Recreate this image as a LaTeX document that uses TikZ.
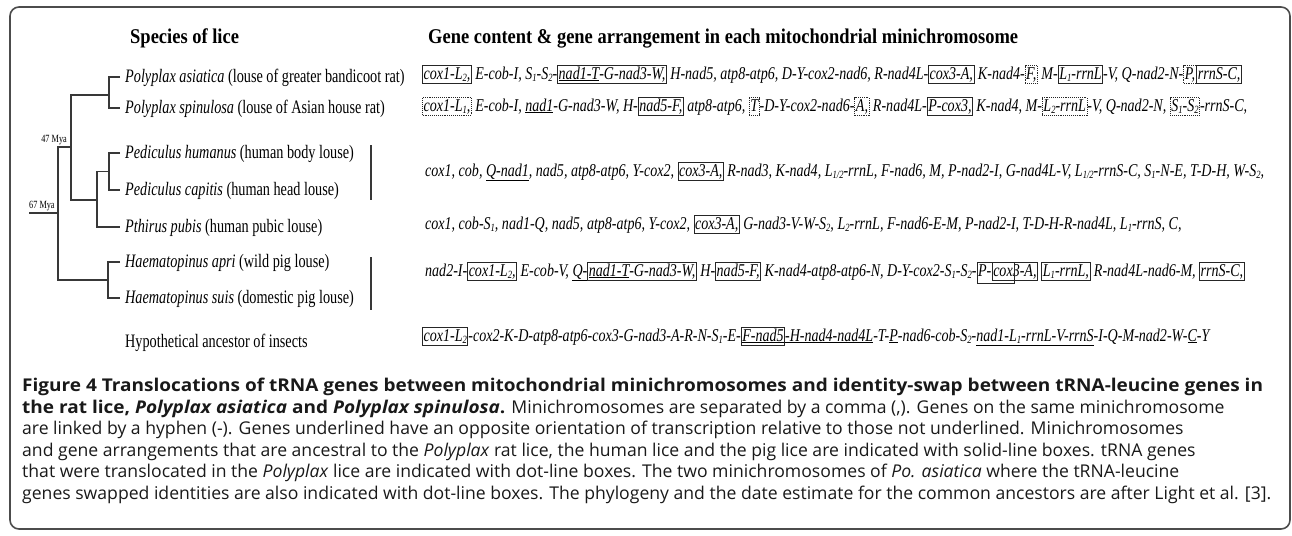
\documentclass[tikz,border=0pt]{standalone}
\usepackage{fontspec}
\setmainfont{Liberation Serif}
\newfontfamily\licefont[FakeStretch=0.75]{Liberation Serif}
\newfontfamily\genefont[FakeStretch=0.78]{Liberation Serif}
\newfontfamily\headfont[FakeStretch=0.88]{Liberation Serif}
\newfontfamily\capfont[BoldFeatures={FakeStretch=1.08},BoldItalicFeatures={FakeStretch=1.08}]{Open Sans}
\usetikzlibrary{positioning}

\tikzset{
  genebox/.style={draw=black!85, line width=0.9pt, inner xsep=1pt, inner ysep=1.5pt,
    text height=12pt, text depth=2.5pt, anchor=base, outer sep=0pt},
  boxline/.style={draw=black!85, line width=0.9pt}
}
% boxes round parts of a gene line
\newcommand\solidbox[1]{\tikz[baseline=(gb.base)]\node[genebox](gb){#1};}
\newcommand\dotbox[1]{\tikz[baseline=(gb.base)]\node[genebox,densely dotted](gb){#1};}
\newcommand\pcoxbox{\tikz[baseline=(pp.base)]{%
  \node[genebox,draw=none](pp){P-};
  \node[genebox,anchor=base west](cc) at (pp.base east){cox3-A,};
  \draw[boxline] (pp.north west) rectangle ([yshift=-3pt]cc.south);}}
\newcommand\ssub[1]{\raisebox{-0.3ex}{\fontsize{11}{11}\selectfont#1}}

\begin{document}
\begin{tikzpicture}[x=1pt, y=1pt,
    tree/.style={draw=black!78, line width=1.4pt},
    bar/.style={draw=black!78, line width=1.5pt},
    species/.style={anchor=base west, inner xsep=5pt, inner ysep=0pt, text height=14pt,
      text depth=4pt, font=\licefont\fontsize{19}{21}\selectfont},
    gene/.style={anchor=base west, inner sep=0pt, font=\genefont\itshape\fontsize{18}{20}\selectfont},
    head/.style={anchor=base west, inner sep=0pt, font=\headfont\bfseries\fontsize{21}{24}\selectfont},
    mya/.style={inner sep=0pt, font=\licefont\fontsize{11}{12}\selectfont},
    caption/.style={anchor=north west, inner sep=0pt, align=left, text=black!90,
      font=\capfont\fontsize{17.6}{21.5}\selectfont}]
  \useasboundingbox (0,0) rectangle (1292,-535);
  \draw[draw=black!70, line width=1.6pt, rounded corners=9pt] (10,-7) rectangle (1290,-529);

  % Headers
  \node (hspecies) [head] at (130,-44) {Species of lice};
  \node (hgenes) [head] at (428,-44) {Gene content \& gene arrangement in each mitochondrial minichromosome};

  % Species
  \node (sp1) [species] at (120,-82) {\textit{Polyplax asiatica} (louse of greater bandicoot rat)};
  \node (sp2) [species] at (120,-113) {\textit{Polyplax spinulosa} (louse of Asian house rat)};
  \node (sp3) [species] at (120,-158) {\textit{Pediculus humanus} (human body louse)};
  \node (sp4) [species] at (120,-195) {\textit{Pediculus capitis} (human head louse)};
  \node (sp5) [species] at (120,-232) {\textit{Pthirus pubis} (human pubic louse)};
  \node (sp6) [species] at (120,-267) {\textit{Haematopinus apri} (wild pig louse)};
  \node (sp7) [species] at (120,-303) {\textit{Haematopinus suis} (domestic pig louse)};
  \node (sp8) [species] at (120,-347) {Hypothetical ancestor of insects};

  % Tree
  \coordinate (pol) at (109,-95);
  \coordinate (ped) at (109,-171.5);
  \coordinate (hum) at (97,-200);
  \coordinate (n47) at (71,-147);
  \coordinate (pig) at (108,-280);
  \coordinate (n67) at (58,-213);
  \coordinate (root) at (29,-213);
  \draw[tree] (sp1.west) -| (pol) |- (sp2.west);
  \draw[tree] (sp3.west) -| (ped) |- (sp4.west);
  \draw[tree] (ped) -| (hum) |- (sp5.west);
  \draw[tree] (pol) -| (n47) |- (hum);
  \draw[tree] (sp6.west) -| (pig) |- (sp7.west);
  \draw[tree] (n47) -| (n67) |- (pig);
  \draw[tree] (n67) -- (root);
  \node (m47) [mya, above left=2pt and 4pt of n47] {47 Mya};
  \node (m67) [mya, above right=2pt and 0pt of root] {67 Mya};
  \draw[bar] (371,-145) -- (371,-200);
  \draw[bar] (371,-257) -- (371,-310);

  % Gene lines
  \node (g1) [gene] at (422,-79) {\solidbox{cox1-L\ssub2,} E-cob-I, S\ssub1-S\ssub2-\solidbox{\underline{nad1-T}-G-nad3-W,} H-nad5, atp8-atp6, D-Y-cox2-nad6, R-nad4L-\solidbox{cox3-A,} K-nad4-\dotbox{F,} M-\solidbox{L\ssub1-rrnL}-V, Q-nad2-N-\dotbox{P,}\solidbox{rrnS-C,}};
  \node (g2) [gene] at (422,-111) {\dotbox{cox1-L\ssub1,} E-cob-I, \underline{nad1}-G-nad3-W, H-\solidbox{nad5-F,} atp8-atp6, \dotbox{T}-D-Y-cox2-nad6-\dotbox{A,} R-nad4L-\solidbox{P-cox3,} K-nad4, M-\dotbox{L\ssub2-rrnL}-V, Q-nad2-N, \dotbox{S\ssub1-S\ssub2}-rrnS-C,};
  \node (g3) [gene] at (425,-176) {cox1, cob, \underline{Q-nad1}, nad5, atp8-atp6, Y-cox2, \solidbox{cox3-A,} R-nad3, K-nad4, L\ssub{1/2}-rrnL, F-nad6, M, P-nad2-I, G-nad4L-V, L\ssub{1/2}-rrnS-C, S\ssub1-N-E, T-D-H, W-S\ssub2,};
  \node (g4) [gene] at (425,-229) {cox1, cob-S\ssub1, nad1-Q, nad5, atp8-atp6, Y-cox2, \solidbox{cox3-A,} G-nad3-V-W-S\ssub2, L\ssub2-rrnL, F-nad6-E-M, P-nad2-I, T-D-H-R-nad4L, L\ssub1-rrnS, C,};
  \node (g5) [gene] at (425,-276) {nad2-I-\solidbox{cox1-L\ssub2,} E-cob-V, \underline{Q-}\solidbox{\underline{nad1-T}-G-nad3-W,} H-\solidbox{nad5-F,} K-nad4-atp8-atp6-N, D-Y-cox2-S\ssub1-S\ssub2-\pcoxbox\ \solidbox{L\ssub1-rrnL,} R-nad4L-nad6-M, \solidbox{rrnS-C,}};
  \node (g6) [gene] at (422,-341) {\solidbox{cox1-L\ssub2}-cox2-K-D-atp8-atp6-cox3-G-nad3-A-R-N-S\ssub1-E-\solidbox{\underline{F-nad5}}\underline{-H-nad4-nad4L}-T-\underline{P}-nad6-cob-S\ssub2-\underline{nad1-L\ssub1-rrnL-V-rrnS}-I-Q-M-nad2-W-\underline{C}-Y};

  % Caption
  \node (cap) [caption] at (22,-378) {\textbf{Figure 4 Translocations of tRNA genes between mitochondrial minichromosomes and identity-swap between tRNA-leucine genes in}\\
    \textbf{the rat lice, \textit{Polyplax asiatica} and \textit{Polyplax spinulosa}.} Minichromosomes are separated by a comma (,). Genes on the same minichromosome\\
    are linked by a hyphen (-). Genes underlined have an opposite orientation of transcription relative to those not underlined. Minichromosomes\\
    and gene arrangements that are ancestral to the \textit{Polyplax} rat lice, the human lice and the pig lice are indicated with solid-line boxes. tRNA genes\\
    that were translocated in the \textit{Polyplax} lice are indicated with dot-line boxes. The two minichromosomes of \textit{Po. asiatica} where the tRNA-leucine\\
    genes swapped identities are also indicated with dot-line boxes. The phylogeny and the date estimate for the common ancestors are after Light et al. [3].};
\end{tikzpicture}
\end{document}
